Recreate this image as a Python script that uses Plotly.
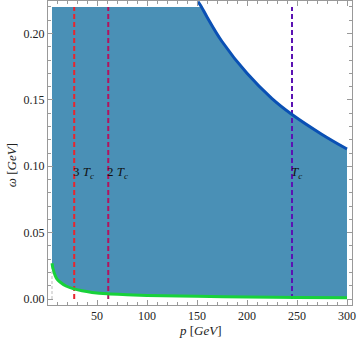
import plotly.graph_objects as go

# ---- data ----
# upper boundary (blue curve)
blue_p = [151, 154.5, 160, 175, 200, 225, 245, 275, 300]
blue_w = [0.224, 0.220, 0.2125, 0.194, 0.170, 0.151, 0.139, 0.124, 0.113]
# lower boundary (green curve)
green_p = [5, 6, 8, 10, 13, 19, 26, 35, 45, 60, 80, 100, 150, 200, 250, 300]
green_w = [0.027, 0.023, 0.018, 0.015, 0.0128, 0.0098, 0.0078, 0.0062, 0.0050, 0.0039,
           0.0032, 0.0027, 0.0020, 0.0015, 0.0012, 0.0009]
# region ceiling
omega_cap = 0.22
p_min = 5
# temperature lines
temp_labels = ["3 <i>T</i><sub><i>c</i></sub>", "2 <i>T</i><sub><i>c</i></sub>", "<i>T</i><sub><i>c</i></sub>"]
temp_p = [27.2, 61.25, 245]
temp_colors = ["#e8262e", "#b3135f", "#5b12b3"]
label_w = 0.095
x_ticks = [50, 100, 150, 200, 250, 300]
y_ticks = [0.00, 0.05, 0.10, 0.15, 0.20]

FONT = "Liberation Serif, serif"
W, H = 358, 343
ML, MR, MT, MB = 48, 6, 1, 38

fig = go.Figure()

# filled region polygon
top_p = [p_min] + [p for p, w in zip(blue_p, blue_w) if w <= omega_cap]
top_w = [omega_cap] + [w for w in blue_w if w <= omega_cap]
poly_p = top_p + green_p[::-1] + [p_min]
poly_w = top_w + green_w[::-1] + [omega_cap]
fig.add_trace(go.Scatter(x=poly_p, y=poly_w, mode="lines", fill="toself",
                         fillcolor="#4a90b6", line=dict(width=0), hoverinfo="skip"))

# left region boundary (gray dashed)
fig.add_trace(go.Scatter(x=[p_min, p_min], y=[0, green_w[0]], mode="lines",
                         line=dict(color="#bbbbbb", width=1, dash="3px,2px")))

# temperature lines
for p, c in zip(temp_p, temp_colors):
    fig.add_trace(go.Scatter(x=[p, p], y=[0, omega_cap], mode="lines",
                             line=dict(color=c, width=2, dash="5px,3px")))

# curves
fig.add_trace(go.Scatter(x=green_p, y=green_w, mode="lines",
                         line=dict(color="#18d13a", width=3, shape="spline")))
fig.add_trace(go.Scatter(x=blue_p, y=blue_w, mode="lines",
                         line=dict(color="#0a50b4", width=3, shape="spline")))

for lab, p in zip(temp_labels, temp_p):
    fig.add_annotation(x=p, y=label_w, text=lab, showarrow=False, xanchor="left",
                       xshift=-3, font=dict(family=FONT, size=13, color="#111"))

# axis titles
fig.add_annotation(xref="paper", yref="paper", x=0.5, y=-(330 - (H - MB)) / (H - MT - MB),
                   text="<i>p</i> [<i>GeV</i>]", showarrow=False, yanchor="middle",
                   font=dict(family=FONT, size=13, color="#222"))
fig.add_annotation(xref="paper", yref="paper", x=-(ML - 11) / (W - ML - MR), y=0.46,
                   text="<i>ω</i> [<i>GeV</i>]", showarrow=False, textangle=-90,
                   xanchor="center", yanchor="middle",
                   font=dict(family=FONT, size=13, color="#222"))

axis_common = dict(showgrid=False, zeroline=False, showline=True, linecolor="#999999",
                   linewidth=1, mirror="allticks", ticks="inside", ticklen=5,
                   tickcolor="#999999", automargin=False,
                   tickfont=dict(family=FONT, size=12, color="#222"))

fig.update_xaxes(range=[1, 305], tickvals=x_ticks, **axis_common,
                 minor=dict(ticks="inside", dtick=10, tick0=0, ticklen=3, tickcolor="#999999"))
fig.update_yaxes(range=[-0.0045, 0.2245], tickvals=y_ticks, tickformat=".2f", **axis_common,
                 minor=dict(ticks="inside", dtick=0.01, tick0=0, ticklen=3, tickcolor="#999999"))

fig.update_layout(width=W, height=H, margin=dict(l=ML, r=MR, t=MT, b=MB, autoexpand=False),
                  paper_bgcolor="white", plot_bgcolor="white", showlegend=False)

fig.write_html("out.html", config={"displayModeBar": False},
               post_script="document.body.style.margin='0';document.body.style.overflow='hidden';")
